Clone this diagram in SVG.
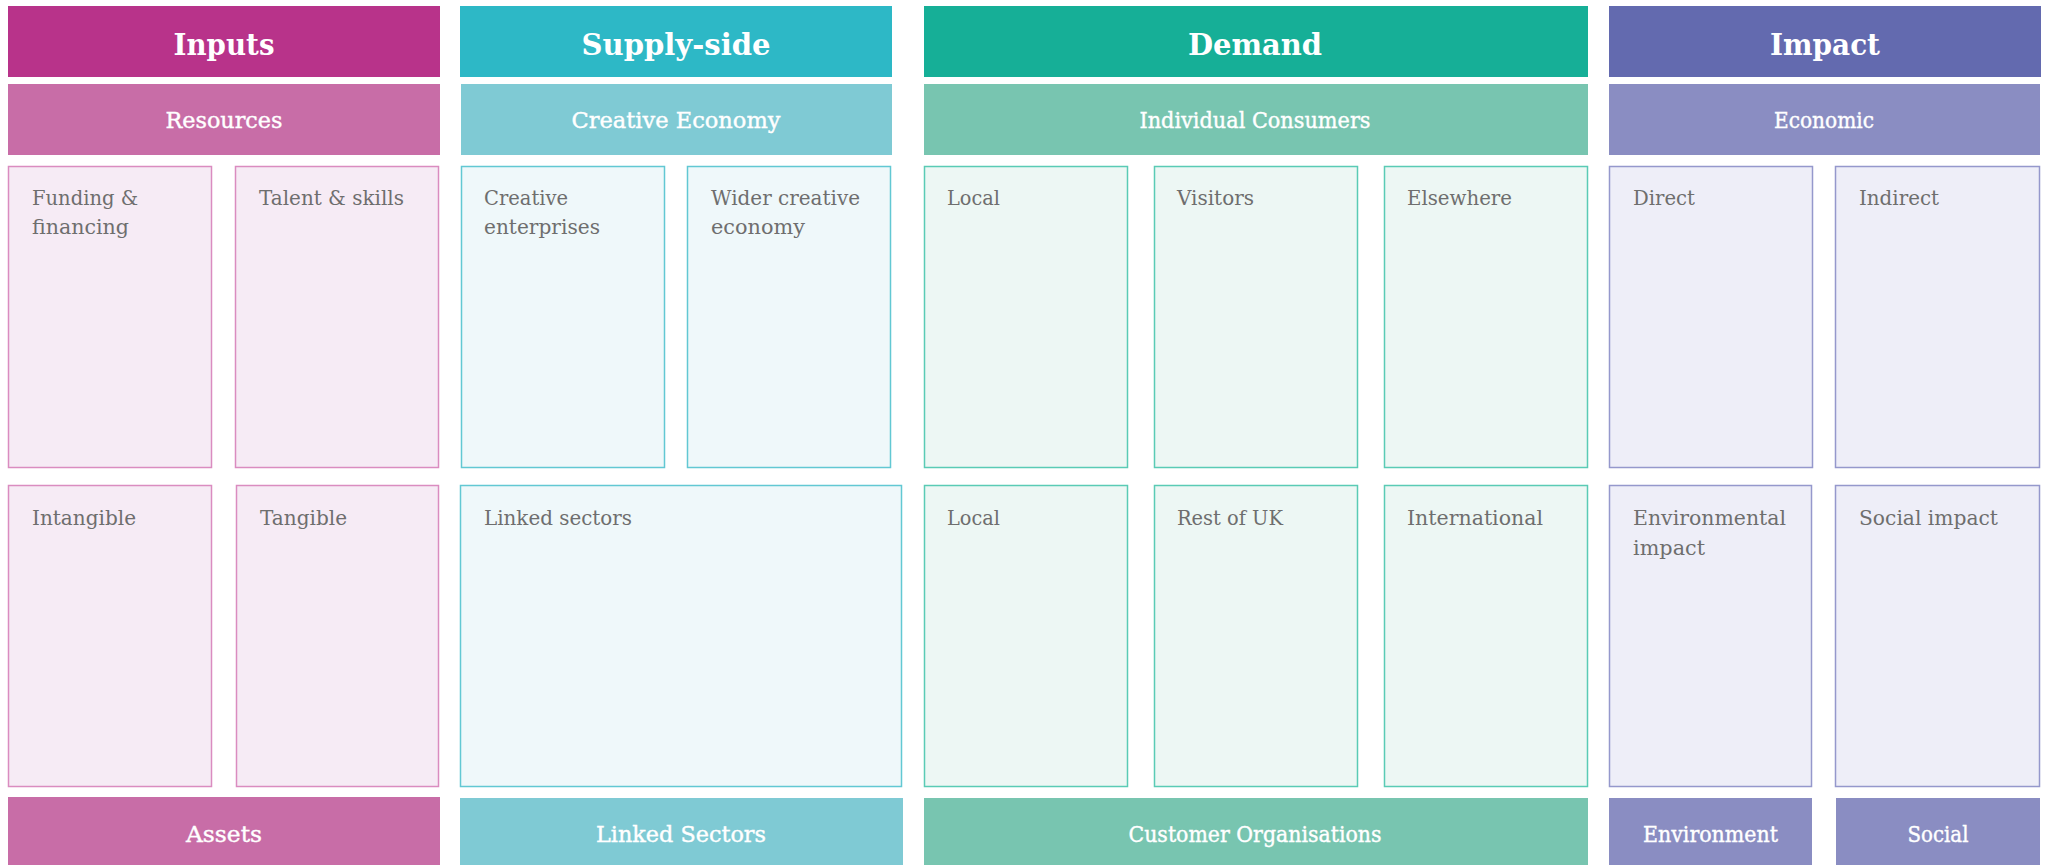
<svg xmlns="http://www.w3.org/2000/svg" width="2049" height="865" viewBox="0 0 2049 865">
<style>
text{font-family:"DejaVu Serif","Liberation Serif",serif}
.h{font-size:30px;font-weight:bold;fill:#fff;text-anchor:middle}
.s{font-size:22px;fill:#fff;stroke:#fff;stroke-width:0.4;text-anchor:middle}
.l{font-size:20px;fill:#6e6e6e}
.bx{stroke-width:1.5}
.in{fill:#f6ebf5;stroke:#da8cc0}
.su{fill:#eff8fa;stroke:#62c8d3}
.de{fill:#edf7f4;stroke:#5acbb5}
.im{fill:#eeeef8;stroke:#9598cc}
</style>
<rect width="2049" height="865" fill="#fff"/>
<g id="inputs">
<rect x="8" y="6" width="432" height="71" fill="#b8338a"/>
<text class="h" x="224" y="55" textLength="101" lengthAdjust="spacingAndGlyphs">Inputs</text>
<rect x="8" y="84" width="432" height="71" fill="#c86da7"/>
<text class="s" x="224" y="128" textLength="117" lengthAdjust="spacingAndGlyphs">Resources</text>
<g id="funding"><rect class="bx in" x="8.5" y="166.5" width="203" height="301"/>
<text class="l" x="32" y="205" textLength="106" lengthAdjust="spacingAndGlyphs">Funding &amp;</text>
<text class="l" x="32" y="234" textLength="97" lengthAdjust="spacingAndGlyphs">financing</text></g>
<g id="talent"><rect class="bx in" x="235.5" y="166.5" width="203" height="301"/>
<text class="l" x="259" y="205" textLength="145" lengthAdjust="spacingAndGlyphs">Talent &amp; skills</text></g>
<g id="intangible"><rect class="bx in" x="8.5" y="485.5" width="203" height="301"/>
<text class="l" x="32" y="525" textLength="104" lengthAdjust="spacingAndGlyphs">Intangible</text></g>
<g id="tangible"><rect class="bx in" x="236.5" y="485.5" width="202" height="301"/>
<text class="l" x="260" y="525" textLength="87" lengthAdjust="spacingAndGlyphs">Tangible</text></g>
<rect x="8" y="797" width="432" height="68" fill="#c86da7"/>
<text class="s" x="224" y="842" textLength="76" lengthAdjust="spacingAndGlyphs">Assets</text>
</g>
<g id="supply">
<rect x="460" y="6" width="432" height="71" fill="#2db8c6"/>
<text class="h" x="676" y="55" textLength="189" lengthAdjust="spacingAndGlyphs">Supply-side</text>
<rect x="461" y="84" width="431" height="71" fill="#7fcad4"/>
<text class="s" x="676" y="128" textLength="209" lengthAdjust="spacingAndGlyphs">Creative Economy</text>
<g id="creative-enterprises"><rect class="bx su" x="461.5" y="166.5" width="203" height="301"/>
<text class="l" x="484" y="205" textLength="84" lengthAdjust="spacingAndGlyphs">Creative</text>
<text class="l" x="484" y="234" textLength="116" lengthAdjust="spacingAndGlyphs">enterprises</text></g>
<g id="wider-creative"><rect class="bx su" x="687.5" y="166.5" width="203" height="301"/>
<text class="l" x="711" y="205" textLength="149" lengthAdjust="spacingAndGlyphs">Wider creative</text>
<text class="l" x="711" y="234" textLength="94" lengthAdjust="spacingAndGlyphs">economy</text></g>
<g id="linked-sectors"><rect class="bx su" x="460.5" y="485.5" width="441" height="301"/>
<text class="l" x="484" y="525" textLength="148" lengthAdjust="spacingAndGlyphs">Linked sectors</text></g>
<rect x="460" y="798" width="443" height="67" fill="#7fcad4"/>
<text class="s" x="681" y="842" textLength="170" lengthAdjust="spacingAndGlyphs">Linked Sectors</text>
</g>
<g id="demand">
<rect x="924" y="6" width="664" height="71" fill="#16af97"/>
<text class="h" x="1255" y="55" textLength="134" lengthAdjust="spacingAndGlyphs">Demand</text>
<rect x="924" y="84" width="664" height="71" fill="#78c5b0"/>
<text class="s" x="1255" y="128" textLength="231" lengthAdjust="spacingAndGlyphs">Individual Consumers</text>
<g id="local-1"><rect class="bx de" x="924.5" y="166.5" width="203" height="301"/>
<text class="l" x="947" y="205" textLength="53" lengthAdjust="spacingAndGlyphs">Local</text></g>
<g id="visitors"><rect class="bx de" x="1154.5" y="166.5" width="203" height="301"/>
<text class="l" x="1177" y="205" textLength="77" lengthAdjust="spacingAndGlyphs">Visitors</text></g>
<g id="elsewhere"><rect class="bx de" x="1384.5" y="166.5" width="203" height="301"/>
<text class="l" x="1407" y="205" textLength="105" lengthAdjust="spacingAndGlyphs">Elsewhere</text></g>
<g id="local-2"><rect class="bx de" x="924.5" y="485.5" width="203" height="301"/>
<text class="l" x="947" y="525" textLength="53" lengthAdjust="spacingAndGlyphs">Local</text></g>
<g id="rest-of-uk"><rect class="bx de" x="1154.5" y="485.5" width="203" height="301"/>
<text class="l" x="1177" y="525" textLength="106" lengthAdjust="spacingAndGlyphs">Rest of UK</text></g>
<g id="international"><rect class="bx de" x="1384.5" y="485.5" width="203" height="301"/>
<text class="l" x="1407" y="525" textLength="136" lengthAdjust="spacingAndGlyphs">International</text></g>
<rect x="924" y="798" width="664" height="67" fill="#78c5b0"/>
<text class="s" x="1255" y="842" textLength="253" lengthAdjust="spacingAndGlyphs">Customer Organisations</text>
</g>
<g id="impact">
<rect x="1609" y="6" width="432" height="71" fill="#636aaf"/>
<text class="h" x="1825" y="55" textLength="110" lengthAdjust="spacingAndGlyphs">Impact</text>
<rect x="1609" y="84" width="431" height="71" fill="#8a8dc2"/>
<text class="s" x="1824" y="128" textLength="100" lengthAdjust="spacingAndGlyphs">Economic</text>
<g id="direct"><rect class="bx im" x="1609.5" y="166.5" width="203" height="301"/>
<text class="l" x="1633" y="205" textLength="62" lengthAdjust="spacingAndGlyphs">Direct</text></g>
<g id="indirect"><rect class="bx im" x="1835.5" y="166.5" width="204" height="301"/>
<text class="l" x="1859" y="205" textLength="80" lengthAdjust="spacingAndGlyphs">Indirect</text></g>
<g id="environmental-impact"><rect class="bx im" x="1609.5" y="485.5" width="202" height="301"/>
<text class="l" x="1633" y="525" textLength="153" lengthAdjust="spacingAndGlyphs">Environmental</text>
<text class="l" x="1633" y="555" textLength="72" lengthAdjust="spacingAndGlyphs">impact</text></g>
<g id="social-impact"><rect class="bx im" x="1835.5" y="485.5" width="204" height="301"/>
<text class="l" x="1859" y="525" textLength="139" lengthAdjust="spacingAndGlyphs">Social impact</text></g>
<rect x="1609" y="798" width="203" height="67" fill="#8a8dc2"/>
<text class="s" x="1710.5" y="842" textLength="135" lengthAdjust="spacingAndGlyphs">Environment</text>
<rect x="1836" y="798" width="204" height="67" fill="#8a8dc2"/>
<text class="s" x="1938" y="842" textLength="61" lengthAdjust="spacingAndGlyphs">Social</text>
</g>
<g id="connectors"/>
</svg>
